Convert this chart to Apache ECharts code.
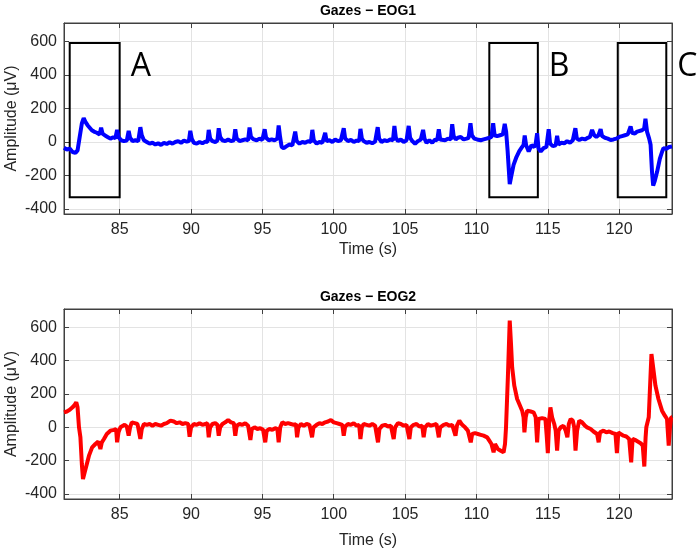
<!DOCTYPE html>
<html>
<head>
<meta charset="utf-8">
<script src="https://cdn.jsdelivr.net/npm/echarts@6/dist/echarts.min.js"></script>
<style>
html, body { margin: 0; padding: 0; background: #fff; }
#main { width: 697px; height: 553px; }
</style>
</head>
<body>
<div id="main"></div>
<script>
// tick labels
var timeTicks = [85, 90, 95, 100, 105, 110, 115, 120];
var ampTicks = [-400, -200, 0, 200, 400, 600];

// EOG1 (top, blue)
var eog1Time = [81.1, 81.3, 81.5, 81.7, 81.9, 82.05, 82.2, 82.35, 82.48, 82.6, 82.75, 82.9, 83.05, 83.2, 83.4, 83.6, 83.7, 83.8, 83.95, 84.15,
    84.35, 84.55, 84.7, 84.82, 84.92, 85.1, 85.3, 85.5, 85.63, 85.73, 85.9, 86.1, 86.3, 86.45, 86.55, 86.7, 86.9, 87.1, 87.3, 87.5,
    87.7, 87.9, 88.1, 88.3, 88.5, 88.7, 88.9, 89.1, 89.3, 89.5, 89.7, 89.85, 89.95, 90.05, 90.2, 90.4, 90.6, 90.8, 91.0, 91.15,
    91.24, 91.34, 91.5, 91.7, 91.85, 91.94, 92.04, 92.2, 92.4, 92.6, 92.8, 93.0, 93.1, 93.2, 93.4, 93.6, 93.8, 94.0, 94.1, 94.2,
    94.4, 94.6, 94.8, 95.0, 95.16, 95.26, 95.45, 95.65, 95.85, 96.05, 96.14, 96.24, 96.35, 96.5, 96.7, 96.9, 97.1, 97.3, 97.4, 97.6,
    97.8, 98.0, 98.2, 98.4, 98.5, 98.6, 98.8, 99.0, 99.2, 99.4, 99.5, 99.7, 99.9, 100.1, 100.3, 100.5, 100.7, 100.8, 101.0, 101.2,
    101.4, 101.6, 101.78, 101.87, 101.97, 102.1, 102.3, 102.5, 102.7, 102.9, 103.08, 103.18, 103.35, 103.55, 103.75, 103.95, 104.15, 104.25, 104.35, 104.5,
    104.7, 104.9, 105.1, 105.25, 105.35, 105.5, 105.7, 105.9, 106.1, 106.26, 106.36, 106.5, 106.7, 106.9, 107.1, 107.25, 107.36, 107.46, 107.6, 107.8,
    108.0, 108.2, 108.3, 108.4, 108.55, 108.7, 108.9, 109.1, 109.3, 109.45, 109.58, 109.68, 109.85, 110.05, 110.3, 110.5, 110.7, 110.9, 111.05, 111.17,
    111.27, 111.45, 111.65, 111.85, 111.98, 112.08, 112.18, 112.33, 112.45, 112.6, 112.8, 113.0, 113.2, 113.3, 113.38, 113.48, 113.66, 113.85, 114.05, 114.15,
    114.25, 114.35, 114.5, 114.7, 114.9, 115.06, 115.16, 115.35, 115.55, 115.65, 115.75, 115.95, 116.15, 116.35, 116.55, 116.75, 116.93, 117.03, 117.2, 117.4,
    117.6, 117.8, 117.95, 118.1, 118.25, 118.4, 118.55, 118.7, 118.8, 119.0, 119.2, 119.4, 119.6, 119.8, 120.0, 120.2, 120.4, 120.6, 120.8, 120.9,
    121.1, 121.26, 121.4, 121.6, 121.75, 121.84, 121.95, 122.1, 122.2, 122.3, 122.38, 122.5, 122.66, 122.85, 123.0, 123.1, 123.3, 123.5, 123.7];
var eog1Amp = [-35, -45, -40, -60, -65, -50, 30, 110, 142, 120, 100, 85, 70, 62, 55, 45, 85, 50, 40, 30,
    20, 28, 22, 72, 30, 10, 5, 8, 66, 25, 5, 10, 5, 88, 40, 10, 0, -10, -5, -15,
    -8, -18, -6, -12, -2, -10, 0, 5, -5, 8, 2, 5, 66, 20, -5, -10, 0, -8, 2, 0,
    72, 20, 5, 0, 8, 82, 30, 10, 5, 15, 5, 10, 76, 20, 5, 10, 15, 10, 86, 30,
    15, 10, 20, 12, 76, 25, 10, 15, 10, 20, 98, 30, -30, -37, -25, -15, -20, 62, 5, -10,
    0, -5, 5, 0, 72, 10, -10, 0, -5, 54, 5, 10, 0, 15, 5, 10, 82, 20, 5, 12,
    0, 8, 5, 78, 20, 5, -5, 0, -8, 2, 88, 20, 0, 10, 5, 15, 10, 96, 25, 5,
    15, 0, 10, 96, 25, 5, -10, 5, 15, 72, 20, -5, 10, -5, 15, 10, 76, 15, 5, 10,
    20, 15, 106, 35, 15, 25, 30, 15, 20, 25, 112, 40, 20, 15, 10, 15, 20, 25, 30, 112,
    40, 35, 40, 45, 108, 60, -50, -252, -200, -137, -90, -55, -30, -17, 38, -20, -57, -20, -30, -10,
    52, -40, -57, -37, -30, 76, -10, -25, -20, 36, -15, -5, -8, 5, -5, 10, 82, 20, 12, 20,
    15, 25, 30, 72, 40, 30, 40, 76, 35, 25, 20, 12, 15, 20, 30, 35, 40, 45, 92, 55,
    50, 62, 60, 70, 80, 138, 62, 20, -17, -180, -260, -230, -177, -100, -60, -37, -40, -30, -27];

// EOG2 (bottom, red)
var eog2Time = [81.1, 81.3, 81.5, 81.7, 81.85, 81.96, 82.05, 82.15, 82.25, 82.35, 82.43, 82.55, 82.7, 82.85, 83.07, 83.3, 83.5, 83.65, 83.75, 83.9,
    84.1, 84.35, 84.6, 84.75, 84.82, 84.92, 85.05, 85.17, 85.35, 85.5, 85.63, 85.73, 85.85, 86.05, 86.25, 86.35, 86.45, 86.55, 86.7, 86.9,
    87.1, 87.3, 87.5, 87.7, 87.9, 88.1, 88.3, 88.56, 88.8, 89.0, 89.2, 89.4, 89.6, 89.8, 89.9, 90.0, 90.2, 90.4, 90.6, 90.8,
    91.0, 91.15, 91.24, 91.34, 91.5, 91.7, 91.85, 91.94, 92.04, 92.2, 92.4, 92.6, 92.8, 93.0, 93.1, 93.2, 93.4, 93.6, 93.8, 94.0,
    94.16, 94.26, 94.45, 94.65, 94.85, 95.05, 95.2, 95.3, 95.5, 95.7, 95.9, 96.05, 96.14, 96.25, 96.4, 96.6, 96.8, 97.0, 97.2, 97.35,
    97.43, 97.53, 97.7, 97.9, 98.1, 98.3, 98.48, 98.58, 98.8, 99.0, 99.2, 99.4, 99.6, 99.8, 100.0, 100.2, 100.4, 100.6, 100.7, 100.8,
    101.0, 101.2, 101.4, 101.6, 101.78, 101.87, 101.97, 102.1, 102.3, 102.5, 102.7, 102.9, 103.1, 103.2, 103.4, 103.6, 103.8, 104.0, 104.2, 104.3,
    104.5, 104.7, 104.9, 105.1, 105.3, 105.4, 105.6, 105.8, 106.0, 106.2, 106.3, 106.4, 106.6, 106.8, 107.0, 107.2, 107.36, 107.46, 107.7, 107.9,
    108.1, 108.3, 108.53, 108.63, 108.8, 109.0, 109.2, 109.4, 109.6, 109.7, 109.9, 110.1, 110.3, 110.5, 110.75, 110.9, 111.05, 111.2, 111.3, 111.5,
    111.7, 111.9, 112.0, 112.07, 112.2, 112.33, 112.42, 112.5, 112.65, 112.85, 113.0, 113.2, 113.3, 113.36, 113.45, 113.55, 113.8, 114.0, 114.15, 114.25,
    114.35, 114.6, 114.83, 114.92, 115.0, 115.1, 115.18, 115.3, 115.45, 115.55, 115.65, 115.75, 115.9, 116.1, 116.25, 116.37, 116.47, 116.6, 116.75, 116.85,
    116.94, 117.05, 117.2, 117.4, 117.6, 117.75, 118.0, 118.2, 118.45, 118.56, 118.66, 118.9, 119.1, 119.3, 119.55, 119.74, 119.84, 119.94, 120.1, 120.3,
    120.5, 120.7, 120.84, 120.94, 121.1, 121.3, 121.5, 121.65, 121.76, 121.85, 121.9, 122.07, 122.26, 122.35, 122.54, 122.75, 123.0, 123.2, 123.35, 123.47,
    123.56, 123.64, 123.7];
var eog2Amp = [90, 95, 105, 120, 135, 150, 120, 0, -60, -220, -310, -270, -220, -170, -120, -100, -85, -130, -90, -70,
    -40, -20, -15, -10, -90, -30, 0, 10, 15, 5, -50, 0, 30, 25, 20, 30, -70, -10, 20, 15,
    20, 10, 20, 15, 10, 20, 25, 40, 35, 25, 30, 20, 25, 20, -56, 0, 20, 15, 25, 15,
    20, 25, -60, 0, 20, 25, 15, -50, 0, 20, 30, 44, 30, 25, -50, 10, 20, 15, 25, 10,
    -76, -10, 0, -10, -5, -15, -90, -20, -10, -15, -5, -10, -90, 0, 30, 20, 25, 20, 15, 20,
    -60, 0, 20, 10, 20, 15, -60, 0, 15, 25, 20, 30, 35, 44, 30, 25, 20, 15, -50, 5,
    20, 15, 25, 10, 15, -70, 0, 20, 15, 10, 20, 10, -90, -10, 10, 15, 5, 10, -70, 0,
    25, 20, 10, 15, -70, 0, 15, 20, 5, 10, -60, 0, 20, 10, 15, 20, -60, 0, 15, 20,
    10, 15, -50, 10, 40, 15, 0, -20, -90, -40, -35, -40, -45, -50, -60, -80, -100, -150, -100, -130,
    -140, -150, -100, 0, 300, 640, 500, 360, 250, 170, 140, 100, 60, -30, 60, 100, 95, 90, 60, -90,
    50, 55, 50, -50, -155, 50, 120, 60, 20, -20, -140, -20, 0, 10, -20, -60, 20, 50, 40, 0,
    -140, -20, 40, 30, 10, 0, -10, -25, -40, -90, -30, -20, -30, -25, -35, -40, -155, -30, -40, -50,
    -55, -70, -210, -70, -75, -85, -95, -110, -235, -60, 0, 60, 440, 380, 250, 170, 100, 70, 50, -110,
    0, 60, 60];

// marked gaze regions on EOG1
var boxNames = ['A', 'B', 'C'];
var boxStart = [81.5, 110.9, 119.9];
var boxEnd = [85.0, 114.3, 123.3];
var boxLow = -330;
var boxHigh = 590;

function zip(xs, ys) {
    var out = [];
    for (var i = 0; i < xs.length; i++) out.push([xs[i], ys[i]]);
    return out;
}

var chart = echarts.init(document.getElementById('main'));
var FONT = 'Liberation Sans';
var axisColor = '#404040';
var grids = [
    { left: 64, top: 23, width: 608, height: 191, show: true, borderColor: axisColor, borderWidth: 1, outerBoundsMode: 'none', containLabel: false },
    { left: 64, top: 309, width: 608, height: 190, show: true, borderColor: axisColor, borderWidth: 1, outerBoundsMode: 'none', containLabel: false }
];

var xAxes = [], yAxes = [];
[0, 1].forEach(function(g) {
    xAxes.push({
        type: 'value', gridIndex: g, min: 81.1, max: 123.7, position: 'bottom',
        name: 'Time (s)', nameLocation: 'middle', nameGap: g === 0 ? 28 : 34, nameMoveOverlap: false,
        nameTextStyle: { fontFamily: FONT, fontSize: 16, color: '#262626' },
        axisLine: { show: true, onZero: false, lineStyle: { color: axisColor } },
        axisTick: { show: true, inside: true, length: 5, customValues: timeTicks, lineStyle: { color: axisColor } },
        axisLabel: { customValues: timeTicks, fontFamily: FONT, fontSize: 16, color: '#262626', margin: 8 },
        splitLine: { show: true, lineStyle: { color: '#e3e3e3', width: 1 } }
    });
    xAxes.push({
        type: 'value', gridIndex: g, min: 81.1, max: 123.7, position: 'top',
        axisLine: { show: true, onZero: false, lineStyle: { color: axisColor } },
        axisTick: { show: true, inside: true, length: 5, customValues: timeTicks, lineStyle: { color: axisColor } },
        axisLabel: { show: false },
        splitLine: { show: false }
    });
    yAxes.push({
        type: 'value', gridIndex: g, min: -430, max: 710, position: 'left',
        name: 'Amplitude (μV)', nameLocation: 'middle', nameGap: 44, nameRotate: 90, nameMoveOverlap: false,
        nameTextStyle: { fontFamily: FONT, fontSize: 16, color: '#262626' },
        axisLine: { show: true, onZero: false, lineStyle: { color: axisColor } },
        axisTick: { show: true, inside: true, length: 5, customValues: ampTicks, lineStyle: { color: axisColor } },
        axisLabel: { customValues: ampTicks, fontFamily: FONT, fontSize: 16, color: '#262626', margin: 7 },
        splitLine: { show: true, lineStyle: { color: '#e3e3e3', width: 1 } }
    });
    yAxes.push({
        type: 'value', gridIndex: g, min: -430, max: 710, position: 'right',
        axisLine: { show: true, onZero: false, lineStyle: { color: axisColor } },
        axisTick: { show: true, inside: true, length: 5, customValues: ampTicks, lineStyle: { color: axisColor } },
        axisLabel: { show: false },
        splitLine: { show: false }
    });
});

var boxes = boxNames.map(function(n, i) {
    return [{ name: n, coord: [boxStart[i], boxHigh] }, { coord: [boxEnd[i], boxLow] }];
});

var option = {
    animation: false,
    backgroundColor: '#ffffff',
    grid: grids,
    xAxis: xAxes,
    yAxis: yAxes,
    graphic: [
        { type: 'text', x: 368, y: 11, style: { text: 'Gazes \u2212 EOG1', font: 'bold 14px "Liberation Sans"', fill: '#000', textAlign: 'center', textVerticalAlign: 'middle' } },
        { type: 'text', x: 368, y: 297, style: { text: 'Gazes \u2212 EOG2', font: 'bold 14px "Liberation Sans"', fill: '#000', textAlign: 'center', textVerticalAlign: 'middle' } }
    ],
    series: [
        {
            type: 'line', xAxisIndex: 0, yAxisIndex: 0,
            data: zip(eog1Time, eog1Amp),
            showSymbol: false,
            lineStyle: { color: '#0000ff', width: 4 },
            itemStyle: { color: '#0000ff' },
            z: 3,
            markArea: {
                silent: true,
                itemStyle: { color: 'rgba(0,0,0,0)', borderColor: '#000', borderWidth: 2 },
                label: {
                    show: true, position: ['100%', 0], offset: [10, 9],
                    fontFamily: 'Open Sans', fontSize: 32, color: '#000'
                },
                data: boxes
            }
        },
        {
            type: 'line', xAxisIndex: 2, yAxisIndex: 2,
            data: zip(eog2Time, eog2Amp),
            showSymbol: false,
            lineStyle: { color: '#ff0000', width: 4 },
            itemStyle: { color: '#ff0000' },
            z: 3
        }
    ]
};
chart.setOption(option);
</script>
</body>
</html>
